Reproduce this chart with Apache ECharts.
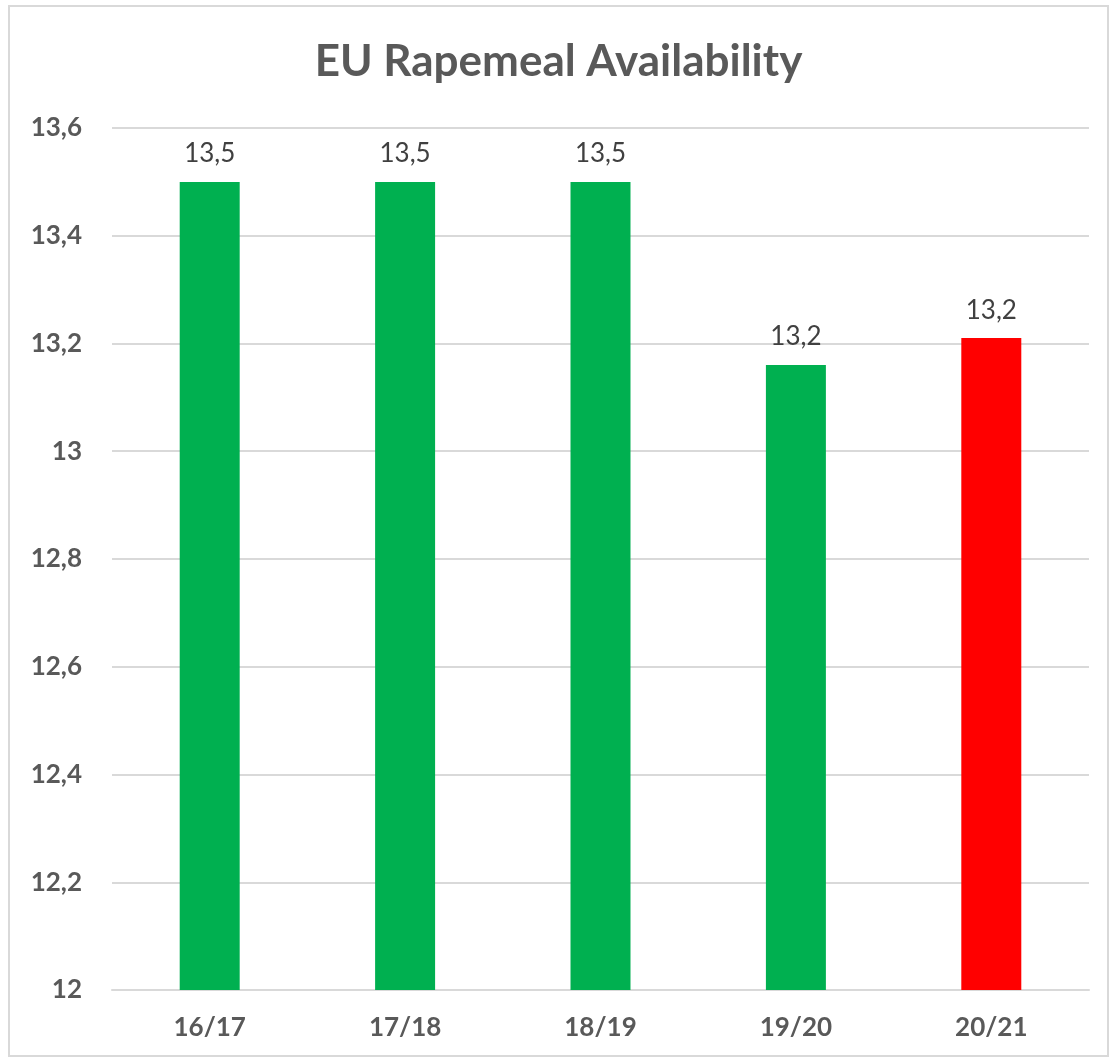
<!DOCTYPE html>
<html>
<head>
<meta charset="utf-8">
<script src="https://cdn.jsdelivr.net/npm/echarts@6/dist/echarts.min.js"></script>
<style>
html, body { margin: 0; padding: 0; background: #fff; }
#main { position: absolute; left: 8px; top: 5px; width: 1101px; height: 1052px; border: 2px solid #d9d9d9; box-sizing: border-box; }
</style>
</head>
<body>
<div id="main"></div>
<script>
// data
var seasons = ['16/17', '17/18', '18/19', '19/20', '20/21'];
var availability = [13.5, 13.5, 13.5, 13.16, 13.21];
var barColors = ['#00b050', '#00b050', '#00b050', '#00b050', '#ff0000'];

var myChart = echarts.init(document.getElementById('main'));

var option = {
    backgroundColor: '#fff',
    animation: false,
    title: {
        text: 'EU Rapemeal Availability',
        left: 'center',
        top: 28,
        textStyle: {
            fontFamily: 'Lato',
            fontSize: 44,
            fontWeight: 'bold',
            color: '#595959'
        }
    },
    grid: {
        left: 102,
        right: 18,
        top: 121,
        bottom: 65
    },
    xAxis: {
        type: 'category',
        data: seasons,
        axisLine: { lineStyle: { color: '#d9d9d9', width: 2 } },
        axisTick: { show: false },
        axisLabel: {
            margin: 25,
            fontFamily: 'Lato',
            fontSize: 26,
            fontWeight: 'bold',
            color: '#595959'
        }
    },
    yAxis: {
        type: 'value',
        min: 12,
        max: 13.6,
        interval: 0.2,
        axisLine: { show: false },
        axisTick: { show: false },
        splitLine: { lineStyle: { color: '#d9d9d9', width: 2 } },
        axisLabel: {
            margin: 30,
            fontFamily: 'Lato',
            fontSize: 26,
            fontWeight: 'bold',
            color: '#595959',
            formatter: function (v) {
                return String(Math.round(v * 10) / 10).replace('.', ',');
            }
        }
    },
    series: [
        {
            type: 'bar',
            barWidth: '30.7%',
            data: availability.map(function (v, i) {
                return { value: v, itemStyle: { color: barColors[i] } };
            }),
            label: {
                show: true,
                position: 'top',
                distance: 15,
                fontFamily: 'Lato',
                fontSize: 26,
                color: '#404040',
                formatter: function (p) {
                    return p.value.toFixed(1).replace('.', ',');
                }
            }
        }
    ]
};

myChart.setOption(option);
</script>
</body>
</html>
